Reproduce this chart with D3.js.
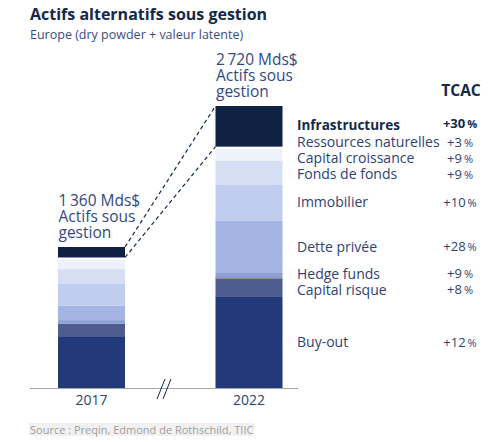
<!DOCTYPE html>
<html>
<head>
<meta charset="utf-8">
<script src="https://cdn.jsdelivr.net/npm/d3@7"></script>
<style>
  html, body { margin: 0; padding: 0; background: #fff; }
  svg { display: block; font-family: "Open Sans", sans-serif; }
</style>
</head>
<body>
<svg id="chart" width="500" height="442"></svg>
<script>
// ---- data ----
const years = ["2017", "2022"];
const categories = ["Buy-out", "Capital risque", "Hedge funds", "Dette privée", "Immobilier",
  "Fonds de fonds", "Capital croissance", "Ressources naturelles", "Infrastructures"];
const values2017 = [492, 128, 35, 138, 216, 138, 94, 18, 101];
const values2022 = [878, 180, 51, 508, 347, 225, 122, 17, 392];
const tcac = ["+12", "+8", "+9", "+28", "+10", "+9", "+9", "+3", "+30"];
const highlighted = "Infrastructures";
const totalCaption = ["Actifs sous", "gestion"];
const title = "Actifs alternatifs sous gestion";
const subtitle = "Europe (dry powder + valeur latente)";
const source = "Source : Preqin, Edmond de Rothschild, TIIC";

// ---- styles ----
const colors = {
  "Buy-out": "#233a7a",
  "Capital risque": "#4d5b8f",
  "Hedge funds": "#8c9fd6",
  "Dette privée": "#a4b5e3",
  "Immobilier": "#c1cdef",
  "Fonds de fonds": "#d6def4",
  "Capital croissance": "#eef2fb",
  "Ressources naturelles": "#ffffff",
  "Infrastructures": "#0f2244"
};
const textColor = "#2e4275";
const navy = "#13294b";

const svg = d3.select("#chart");

// ---- scales ----
const series = { "2017": values2017, "2022": values2022 };
const totals = years.map(y => d3.sum(series[y]));
const x = d3.scalePoint().domain(years).range([91.5, 249]);
const barW = 67;
const y = d3.scaleLinear().domain([0, 2720]).range([388, 106]);

// stacked data
const rows = years.map(yr => {
  const o = { year: yr };
  categories.forEach((c, i) => o[c] = series[yr][i]);
  return o;
});
const stack = d3.stack().keys(categories)(rows);

// ---- title ----
svg.append("text").attr("x", 30).attr("y", 19.5)
  .attr("font-size", 16).attr("font-weight", 700).attr("fill", navy).text(title);
svg.append("text").attr("x", 30).attr("y", 38.5)
  .attr("font-size", 12.5).attr("fill", "#3b4d7c").text(subtitle);

// ---- axis line ----
svg.append("line").attr("x1", 30).attr("x2", 298)
  .attr("y1", y(0) + 0.5).attr("y2", y(0) + 0.5)
  .attr("stroke", "#a6a6a6").attr("stroke-width", 1);

// ---- bars ----
const g = svg.append("g");
stack.forEach(layer => {
  g.selectAll(null).data(layer).enter().append("rect")
    .attr("x", d => x(d.data.year) - barW / 2)
    .attr("width", barW)
    .attr("y", d => y(d[1]))
    .attr("height", d => y(d[0]) - y(d[1]))
    .attr("fill", colors[layer.key]);
});

// thin line between capital risque and hedge funds (2022)
const crLayer = stack[categories.indexOf("Capital risque")];
svg.append("line")
  .attr("x1", x("2022") - barW / 2).attr("x2", x("2022") + barW / 2)
  .attr("y1", y(crLayer[1][1])).attr("y2", y(crLayer[1][1]))
  .attr("stroke", "#a08c72").attr("stroke-width", 1);

// ---- dashed connectors ----
const infra = stack[categories.indexOf(highlighted)];
[1, 0].forEach(k => {
  svg.append("line")
    .attr("x1", x("2017") + barW / 2).attr("y1", y(infra[0][k]))
    .attr("x2", x("2022") - barW / 2).attr("y2", y(infra[1][k]))
    .attr("stroke", navy).attr("stroke-width", 1.2)
    .attr("stroke-dasharray", "4,3");
});

// ---- totals annotation ----
const fmt = v => d3.format(",")(v).replace(/,/g, "\u2009");
years.forEach((yr, i) => {
  const top = y(totals[i]);
  const x0 = x(yr) - barW / 2 + 0.5;
  const t = svg.append("text").attr("x", x0)
    .attr("font-size", 15.5).attr("fill", "#34497f");
  t.append("tspan").attr("x", x0).attr("y", top - 41).text(fmt(totals[i]) + " Mds$");
  t.append("tspan").attr("x", x0).attr("y", top - 25).text(totalCaption[0]);
  t.append("tspan").attr("x", x0).attr("y", top - 9.5).text(totalCaption[1]);
});

// ---- x tick labels ----
svg.selectAll(".tick").data(years).enter().append("text")
  .attr("x", d => x(d)).attr("y", y(0) + 17)
  .attr("text-anchor", "middle").attr("font-size", 14).attr("fill", textColor)
  .text(d => d);

// axis break
[0, 6].forEach(dx => {
  svg.append("line")
    .attr("x1", 157 + dx).attr("y1", 399)
    .attr("x2", 165 + dx).attr("y2", 379)
    .attr("stroke", navy).attr("stroke-width", 1);
});

// ---- legend labels (2022 segment midpoints, relaxed) ----
const mids = stack.map(l => y((l[1][0] + l[1][1]) / 2));
const order = d3.range(categories.length).reverse(); // top-down
let pos = order.map(i => mids[i]);
const gap = 16;
for (let it = 0; it < 200; it++) {
  for (let j = 1; j < pos.length; j++) {
    const d = pos[j] - pos[j - 1];
    if (d < gap) { const s = (gap - d) / 2; pos[j - 1] -= s; pos[j] += s; }
  }
}
svg.append("text").attr("x", 461).attr("y", 96).attr("text-anchor", "middle")
  .attr("font-size", 15.5).attr("font-weight", 700).attr("fill", navy).text("TCAC");

order.forEach((ci, j) => {
  const cat = categories[ci];
  const bold = cat === highlighted;
  svg.append("text").attr("x", 297).attr("y", pos[j] - (bold ? 1.5 : 0)).attr("dy", "0.35em")
    .attr("font-size", bold ? 13.5 : 14).attr("font-weight", bold ? 700 : 400)
    .attr("fill", bold ? navy : textColor).text(cat);
  const p = svg.append("text").attr("x", 460).attr("y", pos[j] - (bold ? 3 : 0)).attr("dy", "0.35em")
    .attr("text-anchor", "middle").attr("font-size", 13).attr("font-weight", bold ? 700 : 400)
    .attr("fill", bold ? navy : textColor);
  p.append("tspan").text(tcac[ci]);
  p.append("tspan").attr("font-size", 11).attr("dx", 2).text("%");
});

// ---- source ----
const src = svg.append("text").attr("x", 30).attr("y", 434)
  .attr("font-size", 11).attr("fill", "#9e9e9e").text(source);
const bb = src.node().getBBox();
svg.insert("rect", "text:last-of-type")
  .attr("x", bb.x - 1).attr("y", bb.y + 1).attr("width", bb.width + 2).attr("height", bb.height - 2)
  .attr("fill", "#f1f1f1");
</script>
</body>
</html>
